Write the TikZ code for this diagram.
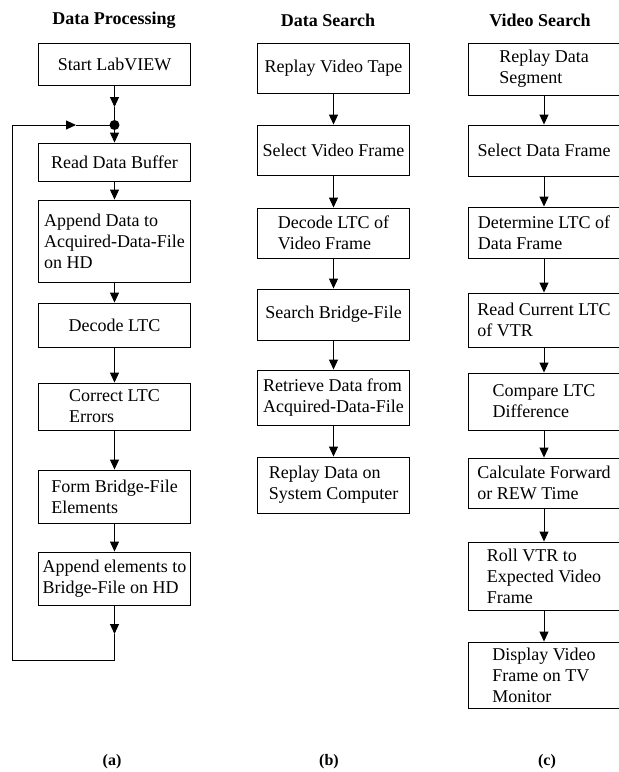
\documentclass[tikz,border=0pt]{standalone}
\usepackage{fontspec}
\setmainfont{Liberation Serif}
\usetikzlibrary{arrows.meta}
\tikzset{
    stepbox/.style={
        draw,
        line width=0.9pt,
        align=left,
        font=\fontsize{18}{21}\selectfont,
        minimum width=152pt,
        inner sep=3pt
    },
    heading/.style={
        font=\fontsize{18}{22}\selectfont\bfseries
    },
    sublabel/.style={
        font=\fontsize{16}{20}\selectfont\bfseries
    },
    arrow/.style={-{Triangle[length=10pt,width=9pt]}, line width=0.9pt},
    loopline/.style={line width=0.9pt}
}
\begin{document}
\begin{tikzpicture}[x=1pt,y=-1pt]
\useasboundingbox (0,0) rectangle (619,772);

% Headings
\node[heading] (hA) at (114,20) {Data Processing};
\node[heading] (hB) at (328,20) {Data Search};
\node[heading] (hC) at (540,20) {Video Search};

% (a) data processing
\node[stepbox, minimum height=42pt] (a1) at (114.5,64) {Start LabVIEW};
\node[stepbox, minimum height=38pt] (a2) at (114.5,162) {Read Data Buffer};
\node[stepbox, minimum height=82pt] (a3) at (114.5,241) {Append Data to\\Acquired-Data-File\\on HD};
\node[stepbox, minimum height=44pt] (a4) at (114.5,325) {Decode LTC};
\node[stepbox, minimum height=47pt] (a5) at (114.5,406.5) {Correct LTC\\Errors};
\node[stepbox, minimum height=53pt] (a6) at (114.5,496.5) {Form Bridge-File\\Elements};
\node[stepbox, minimum height=53pt] (a7) at (114.5,578.5) {Append elements to\\Bridge-File on HD};

% loop points
\coordinate (a1tip) at (114.5,107);
\coordinate (join) at (114.5,125);
\coordinate (loopend) at (114.5,634);
\coordinate (loopbot) at (114.5,660);
\coordinate (loopleft) at (12,660);
\coordinate (looptop) at (12,125);
\coordinate (looptip) at (76,125);

\draw[arrow] (a1.south) -- (a1tip);
\draw[loopline] (a1tip) -- (join);
\fill (join) circle (5pt);
\draw[arrow] (join) -- (a2.north);
\draw[arrow] (a2) -- (a3);
\draw[arrow] (a3) -- (a4);
\draw[arrow] (a4) -- (a5);
\draw[arrow] (a5) -- (a6);
\draw[arrow] (a6) -- (a7);
\draw[arrow] (a7.south) -- (loopend);
\draw[arrow] (loopend) -- (loopbot) -- (loopleft) -- (looptop) -- (looptip);
\draw[loopline] (looptip) -- (join);

% (b) data search
\node[stepbox, minimum height=50pt] (b1) at (333.5,68) {Replay Video Tape};
\node[stepbox, minimum height=50pt] (b2) at (333.5,150) {Select Video Frame};
\node[stepbox, minimum height=50pt] (b3) at (333.5,233) {Decode LTC of\\Video Frame};
\node[stepbox, minimum height=51pt] (b4) at (333.5,314.5) {Search Bridge-File};
\node[stepbox, minimum height=55pt] (b5) at (333.5,397.5) {Retrieve Data from\\Acquired-Data-File};
\node[stepbox, minimum height=56pt] (b6) at (333.5,485) {Replay Data on\\System Computer};

\draw[arrow] (b1) -- (b2);
\draw[arrow] (b2) -- (b3);
\draw[arrow] (b3) -- (b4);
\draw[arrow] (b4) -- (b5);
\draw[arrow] (b5) -- (b6);

% (c) video search
\node[stepbox, minimum height=52pt] (c1) at (544,69) {Replay Data\\Segment};
\node[stepbox, minimum height=51pt] (c2) at (544,150.5) {Select Data Frame};
\node[stepbox, minimum height=51pt] (c3) at (544,232.5) {Determine LTC of\\Data Frame};
\node[stepbox, minimum height=54pt] (c4) at (544,320) {Read Current LTC\\of VTR};
\node[stepbox, minimum height=57pt] (c5) at (544,401.5) {Compare LTC\\Difference};
\node[stepbox, minimum height=50pt] (c6) at (544,483) {Calculate Forward\\or REW Time};
\node[stepbox, minimum height=68pt] (c7) at (544,576) {Roll VTR to\\Expected Video\\Frame};
\node[stepbox, minimum height=66pt] (c8) at (544,675) {Display Video\\Frame on TV\\Monitor};

\draw[arrow] (c1) -- (c2);
\draw[arrow] (c2) -- (c3);
\draw[arrow] (c3) -- (c4);
\draw[arrow] (c4) -- (c5);
\draw[arrow] (c5) -- (c6);
\draw[arrow] (c6) -- (c7);
\draw[arrow] (c7) -- (c8);

% Sub-labels
\node[sublabel] (la) at (112,762) {(a)};
\node[sublabel] (lb) at (329,762) {(b)};
\node[sublabel] (lc) at (547,762) {(c)};

\end{tikzpicture}
\end{document}
